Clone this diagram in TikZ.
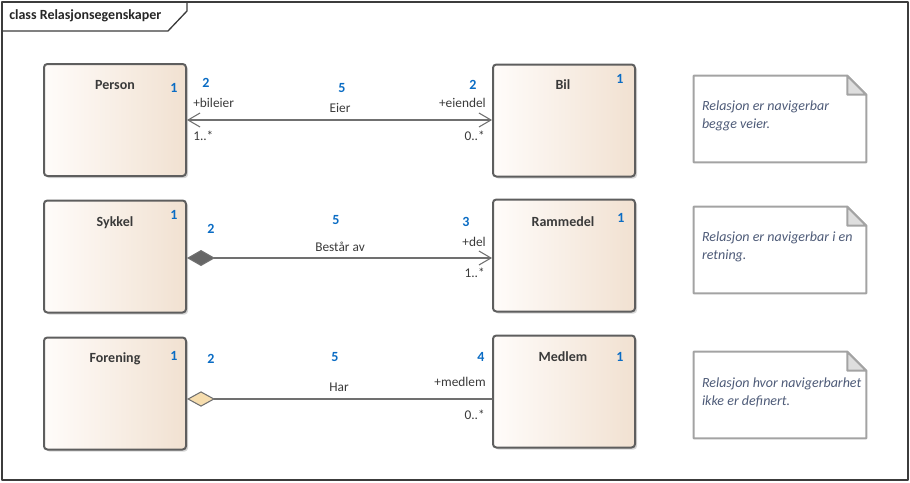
\documentclass[tikz,border=0pt]{standalone}
\usepackage{fontspec}
\setmainfont{Carlito}
\usepackage{tikz}
\usetikzlibrary{arrows.meta,calc,shadows}

\definecolor{rammefarge}{HTML}{3C3C3C}
\definecolor{kant}{HTML}{5E5E5E}
\definecolor{lys}{HTML}{FFFCFA}
\definecolor{brun}{HTML}{F1E1D1}
\definecolor{blaa}{HTML}{0A6CC4}
\definecolor{linje}{HTML}{707070}
\definecolor{mork}{HTML}{666666}
\definecolor{hul}{HTML}{F6DDAE}
\definecolor{notekant}{HTML}{A3A3A3}
\definecolor{brett}{HTML}{DEDEDE}
\definecolor{notefarge}{HTML}{4E5B78}
\definecolor{tekst}{HTML}{3A3A3A}

\tikzset{
  klasse/.style={draw=kant, line width=1.5pt, rounded corners=2.5pt, left color=lys, right color=brun,
    minimum width=106.5pt, minimum height=84pt,
    drop shadow={shadow xshift=1.5pt, shadow yshift=-1.5pt, fill=black!40, opacity=0.4}},
  navn/.style={font=\fontsize{10.5}{12}\selectfont\bfseries, text=tekst, inner sep=0pt},
  nr/.style={font=\fontsize{10.5}{12}\selectfont\bfseries, text=blaa, inner sep=0pt},
  rolle/.style={font=\fontsize{10}{12}\selectfont, text=tekst, inner sep=0pt},
  notat/.style={minimum width=129pt, minimum height=64.5pt, inner sep=0pt},
  notetekst/.style={font=\fontsize{10.5}{13.5}\selectfont\itshape, text=notefarge, align=left, inner sep=0pt},
  notelinje/.style={draw=notekant, line width=1.5pt},
  forb/.style={draw=linje, line width=0.8pt},
}

\begin{document}
\begin{tikzpicture}[line cap=round,line join=round,>={Straight Barb[length=9pt,width=10.5pt]},x=0.75pt,y=-0.75pt]
        \useasboundingbox (0,0) rectangle (910,482);
        % ramme og tittel
        \draw [draw=rammefarge, line width=1pt] (2,2) rectangle (908,480);
        \draw [draw=rammefarge, line width=1pt] (2,31) -- (168,31) -- (187,11) -- (187,2);
        \node [navn, text=black!85, anchor=west] (tittel) at (9,16) {class Relasjonsegenskaper};

        % klasser
        \node [klasse] (person) at (115,120) {};
        \node [klasse] (bil) at (564,120.5) {};
        \node [klasse] (sykkel) at (115,256.5) {};
        \node [klasse] (rammedel) at (564,255.5) {};
        \node [klasse] (forening) at (115,393.5) {};
        \node [klasse] (medlem) at (564,391.5) {};

        \node [navn] (personnavn) at (115,85) {Person};
        \node [navn] (bilnavn) at (563,85) {Bil};
        \node [navn] (sykkelnavn) at (115,223) {Sykkel};
        \node [navn] (rammedelnavn) at (563,222) {Rammedel};
        \node [navn] (foreningnavn) at (115,359) {Forening};
        \node [navn] (medlemnavn) at (563,357) {Medlem};

        \node [nr] (personnr) at (174,88) {1};
        \node [nr] (bilnr) at (620,79) {1};
        \node [nr] (sykkelnr) at (174,215) {1};
        \node [nr] (rammedelnr) at (621,218) {1};
        \node [nr] (foreningnr) at (174,356) {1};
        \node [nr] (medlemnr) at (620,357) {1};

        % forbindelser
        \coordinate (eierstart) at (person.east);
        \draw [forb, <->] (eierstart) -- (eierstart -| bil.west);
        \coordinate (delstart) at ($(sykkel.east)+(0,1.5)$);
        \draw [forb, {Diamond[length=21pt,width=12pt,fill=mork]}->] (delstart) -- (delstart -| rammedel.west);
        \coordinate (harstart) at ($(forening.east)+(0,5.5)$);
        \draw [forb, {Diamond[length=21pt,width=11.5pt,fill=hul]}-] (harstart) -- (harstart -| medlem.west);

        % Eier
        \node [nr] (eiernr1) at (206,83) {2};
        \node [rolle, anchor=west] (bileier) at (193,103) {+bileier};
        \node [rolle, anchor=west] (bileiermult) at (193,136) {1..*};
        \node [nr] (eiernr) at (342,88) {5};
        \node [rolle] (eier) at (340,108) {Eier};
        \node [nr] (eiernr2) at (473,85) {2};
        \node [rolle, anchor=east] (eiendel) at (486,103) {+eiendel};
        \node [rolle, anchor=east] (eiendelmult) at (485,136) {0..*};

        % Består av
        \node [nr] (delnr1) at (211,229) {2};
        \node [nr] (delnr) at (336,220) {5};
        \node [rolle] (bestaar) at (340,247) {Består av};
        \node [nr] (delnr2) at (466,222) {3};
        \node [rolle, anchor=east] (del) at (486,242) {+del};
        \node [rolle, anchor=east] (delmult) at (485,273) {1..*};

        % Har
        \node [nr] (harnr1) at (211,359) {2};
        \node [nr] (harnr) at (335,357) {5};
        \node [rolle] (har) at (339,387) {Har};
        \node [nr] (harnr2) at (481,357) {4};
        \node [rolle, anchor=east] (medlemrolle) at (486,382) {+medlem};
        \node [rolle, anchor=east] (medlemmult) at (485,415) {0..*};

        % notater
        \node [notat] (notat1) at (780,119) {};
        \node [notat] (notat2) at (780,250) {};
        \node [notat] (notat3) at (780,395) {};
        \draw [notelinje, fill=white] (notat1.north west) -- ($(notat1.north east)+(-19,0)$) -- ($(notat1.north east)+(0,19)$) -- (notat1.south east) -- (notat1.south west) -- cycle;
        \draw [notelinje, fill=brett] ($(notat1.north east)+(-19,0)$) -- ($(notat1.north east)+(-19,19)$) -- ($(notat1.north east)+(0,19)$) -- cycle;
        \draw [notelinje, fill=white] (notat2.north west) -- ($(notat2.north east)+(-19,0)$) -- ($(notat2.north east)+(0,19)$) -- (notat2.south east) -- (notat2.south west) -- cycle;
        \draw [notelinje, fill=brett] ($(notat2.north east)+(-19,0)$) -- ($(notat2.north east)+(-19,19)$) -- ($(notat2.north east)+(0,19)$) -- cycle;
        \draw [notelinje, fill=white] (notat3.north west) -- ($(notat3.north east)+(-19,0)$) -- ($(notat3.north east)+(0,19)$) -- (notat3.south east) -- (notat3.south west) -- cycle;
        \draw [notelinje, fill=brett] ($(notat3.north east)+(-19,0)$) -- ($(notat3.north east)+(-19,19)$) -- ($(notat3.north east)+(0,19)$) -- cycle;
        \node [notetekst, anchor=west] (notetekst1) at ($(notat1.west)+(8,-3)$) {Relasjon er navigerbar\\begge veier.};
        \node [notetekst, anchor=west] (notetekst2) at ($(notat2.west)+(8,-3)$) {Relasjon er navigerbar i en\\retning.};
        \node [notetekst, anchor=west] (notetekst3) at ($(notat3.west)+(8,-3)$) {Relasjon hvor navigerbarhet\\ikke er definert.};
    \end{tikzpicture}
\end{document}
